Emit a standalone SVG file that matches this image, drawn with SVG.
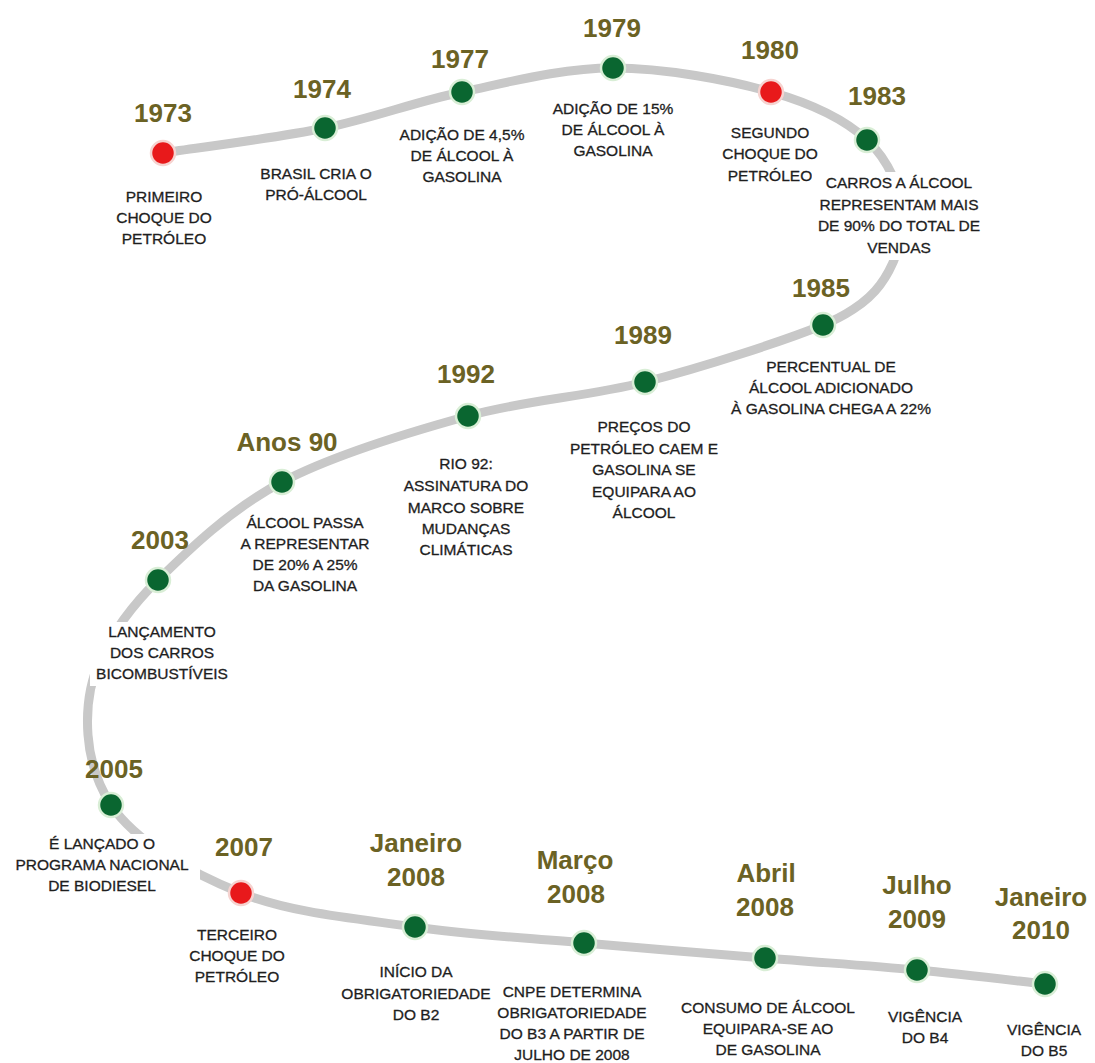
<svg xmlns="http://www.w3.org/2000/svg" width="1095" height="1063" viewBox="0 0 1095 1063">
<style>
.yr{font-family:"Liberation Sans",Arial,sans-serif;font-weight:bold;font-size:26px;fill:#6b6224;text-anchor:middle}
.ds{font-family:"Liberation Sans",Arial,sans-serif;font-size:15.5px;fill:#1e1e1e;stroke:#1e1e1e;stroke-width:0.3;text-anchor:middle}
.g{fill:#0a6630;stroke:#d9eed6;stroke-width:2.5}
.r{fill:#e8191b;stroke:#f6d3d0;stroke-width:2.5}
.bg{fill:#ffffff}
.track{fill:none;stroke:#c8c8c8;stroke-width:9;stroke-linecap:round}
</style>
<rect width="1095" height="1063" fill="#ffffff"/>
<g id="connectors">
<path class="track" d="M163,153 C190,148.8 275.2,138.2 325,128 C374.8,117.8 414,102 462,92 C510,82 561.5,68 613,68 C664.5,68 728.7,80 771,92 C813.3,104 845,119.5 867,140 C889,160.5 901.2,190.5 903,215 C904.8,239.5 892,269 880,285 C866,304 841.6,317.6 823,325 C784.2,340.8 704.2,366.8 645,382 C585.8,397.2 528.5,399.3 468,416 C407.5,432.7 333.7,454.7 282,482 C230.3,509.3 188.3,550.3 158,580 C127.7,609.7 111.7,634.2 100,660 C88.3,685.8 86.2,710.8 88,735 C89.8,759.2 97,783 111,805 C136,842 190.3,872.7 241,893 C291.7,913.3 357.8,918.7 415,927 C472.2,935.3 525.7,937.8 584,943 C642.3,948.2 709.5,953.5 765,958 C820.5,962.5 870.3,965.7 917,970 C963.7,974.3 1023.7,981.7 1045,984"/>
</g>
<g id="n1973">
<circle class="r" cx="163" cy="153" r="12"/>
<text class="yr" x="163" y="122">1973</text>
<text class="ds" x="164" y="202">PRIMEIRO</text>
<text class="ds" x="164" y="223">CHOQUE DO</text>
<text class="ds" x="164" y="244">PETRÓLEO</text>
</g>
<g id="n1974">
<circle class="g" cx="325" cy="128" r="12"/>
<text class="yr" x="322" y="98">1974</text>
<text class="ds" x="316" y="179">BRASIL CRIA O</text>
<text class="ds" x="316" y="200">PRÓ-ÁLCOOL</text>
</g>
<g id="n1977">
<circle class="g" cx="462" cy="92" r="12"/>
<text class="yr" x="460" y="68">1977</text>
<text class="ds" x="462" y="140">ADIÇÃO DE 4,5%</text>
<text class="ds" x="462" y="161">DE ÁLCOOL À</text>
<text class="ds" x="462" y="182">GASOLINA</text>
</g>
<g id="n1979">
<circle class="g" cx="613" cy="68" r="12"/>
<text class="yr" x="612" y="37">1979</text>
<text class="ds" x="613" y="114">ADIÇÃO DE 15%</text>
<text class="ds" x="613" y="135">DE ÁLCOOL À</text>
<text class="ds" x="613" y="156">GASOLINA</text>
</g>
<g id="n1980">
<circle class="r" cx="771" cy="92" r="12"/>
<text class="yr" x="770" y="59">1980</text>
<text class="ds" x="770" y="138">SEGUNDO</text>
<text class="ds" x="770" y="159">CHOQUE DO</text>
<text class="ds" x="770" y="181">PETRÓLEO</text>
</g>
<g id="n1983">
<circle class="g" cx="867" cy="140" r="12"/>
<text class="yr" x="877" y="105">1983</text>
<rect class="bg" x="812" y="172" width="178" height="88"/>
<text class="ds" x="899" y="188">CARROS A ÁLCOOL</text>
<text class="ds" x="899" y="210">REPRESENTAM MAIS</text>
<text class="ds" x="899" y="231">DE 90% DO TOTAL DE</text>
<text class="ds" x="899" y="253">VENDAS</text>
</g>
<g id="n1985">
<circle class="g" cx="823" cy="325" r="12"/>
<text class="yr" x="821" y="297">1985</text>
<text class="ds" x="831" y="372">PERCENTUAL DE</text>
<text class="ds" x="831" y="393">ÁLCOOL ADICIONADO</text>
<text class="ds" x="831" y="414">À GASOLINA CHEGA A 22%</text>
</g>
<g id="n1989">
<circle class="g" cx="645" cy="382" r="12"/>
<text class="yr" x="643" y="344">1989</text>
<text class="ds" x="644" y="432">PREÇOS DO</text>
<text class="ds" x="644" y="454">PETRÓLEO CAEM E</text>
<text class="ds" x="644" y="475">GASOLINA SE</text>
<text class="ds" x="644" y="497">EQUIPARA AO</text>
<text class="ds" x="644" y="518">ÁLCOOL</text>
</g>
<g id="n1992">
<circle class="g" cx="468" cy="416" r="12"/>
<text class="yr" x="466" y="383">1992</text>
<text class="ds" x="466" y="469">RIO 92:</text>
<text class="ds" x="466" y="491">ASSINATURA DO</text>
<text class="ds" x="466" y="513">MARCO SOBRE</text>
<text class="ds" x="466" y="534">MUDANÇAS</text>
<text class="ds" x="466" y="555">CLIMÁTICAS</text>
</g>
<g id="nAnos90">
<circle class="g" cx="282" cy="482" r="12"/>
<text class="yr" x="287" y="451">Anos 90</text>
<text class="ds" x="305" y="528">ÁLCOOL PASSA</text>
<text class="ds" x="305" y="549">A REPRESENTAR</text>
<text class="ds" x="305" y="570">DE 20% A 25%</text>
<text class="ds" x="305" y="591">DA GASOLINA</text>
</g>
<g id="n2003">
<circle class="g" cx="158" cy="580" r="12"/>
<text class="yr" x="160" y="549">2003</text>
<rect class="bg" x="90" y="622" width="142" height="64"/>
<text class="ds" x="162" y="637">LANÇAMENTO</text>
<text class="ds" x="162" y="658">DOS CARROS</text>
<text class="ds" x="162" y="679">BICOMBUSTÍVEIS</text>
</g>
<g id="n2005">
<circle class="g" cx="111" cy="805" r="12"/>
<text class="yr" x="114" y="778">2005</text>
<rect class="bg" x="5" y="834" width="195" height="62"/>
<text class="ds" x="102" y="849">É LANÇADO O</text>
<text class="ds" x="102" y="870">PROGRAMA NACIONAL</text>
<text class="ds" x="102" y="891">DE BIODIESEL</text>
</g>
<g id="n2007">
<circle class="r" cx="241" cy="893" r="12"/>
<text class="yr" x="244" y="856">2007</text>
<text class="ds" x="237" y="940">TERCEIRO</text>
<text class="ds" x="237" y="961">CHOQUE DO</text>
<text class="ds" x="237" y="982">PETRÓLEO</text>
</g>
<g id="nJan2008">
<circle class="g" cx="415" cy="927" r="12"/>
<text class="yr" x="416" y="852">Janeiro</text>
<text class="yr" x="416" y="886">2008</text>
<text class="ds" x="416" y="977">INÍCIO DA</text>
<text class="ds" x="416" y="999">OBRIGATORIEDADE</text>
<text class="ds" x="416" y="1020">DO B2</text>
</g>
<g id="nMar2008">
<circle class="g" cx="584" cy="943" r="12"/>
<text class="yr" x="575" y="869">Março</text>
<text class="yr" x="576" y="903">2008</text>
<text class="ds" x="572" y="997">CNPE DETERMINA</text>
<text class="ds" x="572" y="1018">OBRIGATORIEDADE</text>
<text class="ds" x="572" y="1039">DO B3 A PARTIR DE</text>
<text class="ds" x="572" y="1060">JULHO DE 2008</text>
</g>
<g id="nAbr2008">
<circle class="g" cx="765" cy="958" r="12"/>
<text class="yr" x="766" y="882">Abril</text>
<text class="yr" x="765" y="916">2008</text>
<text class="ds" x="768" y="1013">CONSUMO DE ÁLCOOL</text>
<text class="ds" x="768" y="1034">EQUIPARA-SE AO</text>
<text class="ds" x="768" y="1055">DE GASOLINA</text>
</g>
<g id="nJul2009">
<circle class="g" cx="917" cy="970" r="12"/>
<text class="yr" x="917" y="894">Julho</text>
<text class="yr" x="917" y="928">2009</text>
<text class="ds" x="925" y="1022">VIGÊNCIA</text>
<text class="ds" x="925" y="1043">DO B4</text>
</g>
<g id="nJan2010">
<circle class="g" cx="1045" cy="984" r="12"/>
<text class="yr" x="1041" y="906">Janeiro</text>
<text class="yr" x="1041" y="939">2010</text>
<text class="ds" x="1044" y="1035">VIGÊNCIA</text>
<text class="ds" x="1044" y="1056">DO B5</text>
</g>
</svg>
